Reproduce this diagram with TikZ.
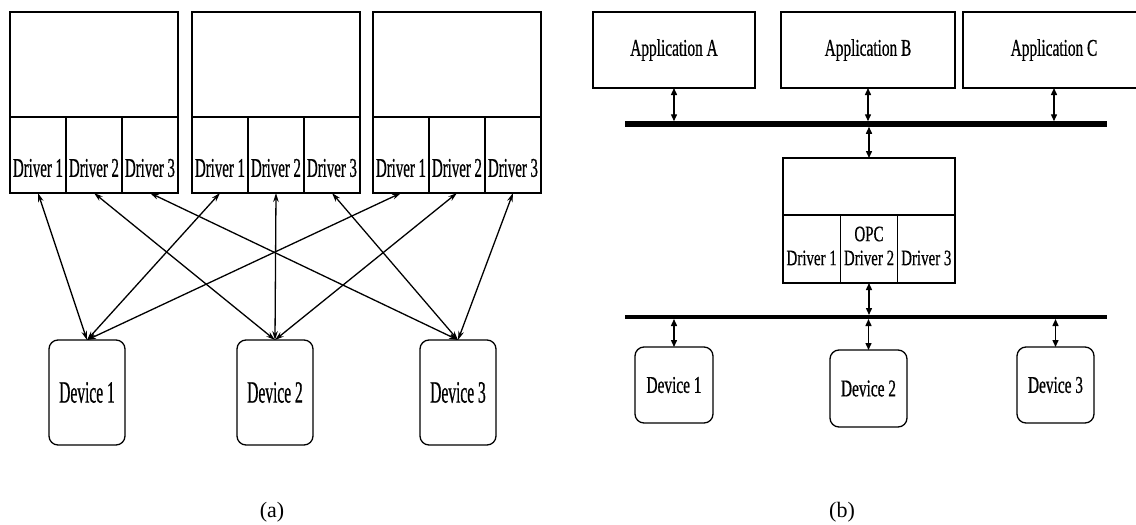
\documentclass[tikz,border=0pt]{standalone}
\usepackage{fontspec}
\setmainfont{Liberation Serif}
\newfontfamily\fdrva[FakeStretch=0.55,FakeBold=0.6]{Liberation Serif}
\newfontfamily\fdeva[FakeStretch=0.5,FakeBold=0.6]{Liberation Serif}
\newfontfamily\fbtext[FakeStretch=0.64,FakeBold=0.6]{Liberation Serif}
\newfontfamily\fbdrv[FakeStretch=0.68,FakeBold=0.5]{Liberation Serif}
\usetikzlibrary{arrows.meta,calc}
\begin{document}
\begin{tikzpicture}[x=1pt,y=-1pt,
  box/.style={draw, line width=1.4pt, inner sep=0pt, outer sep=0pt, anchor=north west},
  devbox/.style={draw, line width=1.3pt, rounded corners=9pt, inner sep=0pt, outer sep=0pt, anchor=north west},
  drvtexta/.style={font=\fdrva\fontsize{27}{29}\selectfont},
  devtexta/.style={font=\fdeva\fontsize{31}{33}\selectfont},
  btext/.style={font=\fbtext\fontsize{24}{26}\selectfont},
  bdrv/.style={font=\fbdrv\fontsize{22}{24}\selectfont},
  link/.style={line width=1.3pt, {Stealth[length=9pt,width=5.5pt]}-{Stealth[length=9pt,width=5.5pt]}},
  linkb/.style={line width=1.4pt, {Triangle[length=7pt,width=6pt]}-{Triangle[length=7pt,width=6pt]}},
  bus/.style={line width=5.5pt},
  bus2/.style={line width=4pt},
  captext/.style={font=\fontsize{22}{24}\selectfont}
]
\useasboundingbox (0,0) rectangle (1136,525);
\fill[white] (0,0) rectangle (1136,525);

% ---------- panel (a)
\foreach \i/\L in {1/10,2/192,3/373} {
  \node[box, minimum width=168pt, minimum height=105pt] (t\i) at (\L,12) {};
  \foreach \j in {1,2,3} {
    \node[box, minimum width=56pt, minimum height=76pt] (d\i\j) at ({\L+56*(\j-1)},117) {};
    \node[drvtexta] (dt\i\j) at ($(d\i\j.south)+(0,-25)$) {Driver \j};
  }
}
\node[devbox, devtexta, minimum width=76pt, minimum height=105pt] (dv1) at (49,340) {Device 1};
\node[devbox, devtexta, minimum width=76pt, minimum height=105pt] (dv2) at (237,340) {Device 2};
\node[devbox, devtexta, minimum width=76pt, minimum height=105pt] (dv3) at (420,340) {Device 3};

\foreach \i in {1,2,3} {
  \foreach \j in {1,2,3} {
    \draw[link] (d\i\j.south) -- (dv\j.north);
  }
}
\node[captext] (la) at (272,512) {(a)};

% ---------- panel (b)
\node[box, btext, minimum width=162pt, minimum height=76pt] (appA) at (593,12) {Application A};
\node[box, btext, minimum width=174pt, minimum height=76pt] (appB) at (781,12) {Application B};
\node[box, btext, minimum width=182pt, minimum height=76pt] (appC) at (963,12) {Application C};

\coordinate (b1l) at (625,124);
\coordinate (b1r) at (1107,124);
\coordinate (b1t) at (0,121.25);
\coordinate (b1b) at (0,126.75);
\draw[bus] (b1l) -- (b1r);

\node[box, minimum width=172pt, minimum height=57pt] (opc) at (783,158) {};
\foreach \j in {1,2,3} {
  \node[box, minimum width=57.33pt, minimum height=68pt] (oc\j) at ({783+57.33*(\j-1)},215) {};
  \node[bdrv] (ot\j) at ($(oc\j.south)+(0,-25)$) {Driver \j};
}
\node[bdrv] (opclbl) at ($(oc2.south)+(0,-49)$) {OPC};

\draw[linkb] (appA.south) -- (appA.south |- b1t);
\draw[linkb] (appB.south) -- (appB.south |- b1t);
\draw[linkb] (appC.south) -- (appC.south |- b1t);
\draw[linkb] (opc.north |- b1b) -- (opc.north);

\coordinate (b2l) at (625,317);
\coordinate (b2r) at (1107,317);
\coordinate (b2t) at (0,315);
\coordinate (b2b) at (0,319);
\draw[bus2] (b2l) -- (b2r);

\node[devbox, btext, minimum width=78pt, minimum height=76pt] (bd1) at (635,347) {Device 1};
\node[devbox, btext, minimum width=77pt, minimum height=77pt] (bd2) at (830,350) {Device 2};
\node[devbox, btext, minimum width=77pt, minimum height=76pt] (bd3) at (1017,347) {Device 3};

\draw[linkb] (oc2.south) -- (oc2.south |- b2t);
\draw[linkb] (bd1.north |- b2b) -- (bd1.north);
\draw[linkb] (bd2.north |- b2b) -- (bd2.north);
\draw[linkb] (bd3.north |- b2b) -- (bd3.north);

\node[captext] (lb) at (842,512) {(b)};
\end{tikzpicture}
\end{document}
